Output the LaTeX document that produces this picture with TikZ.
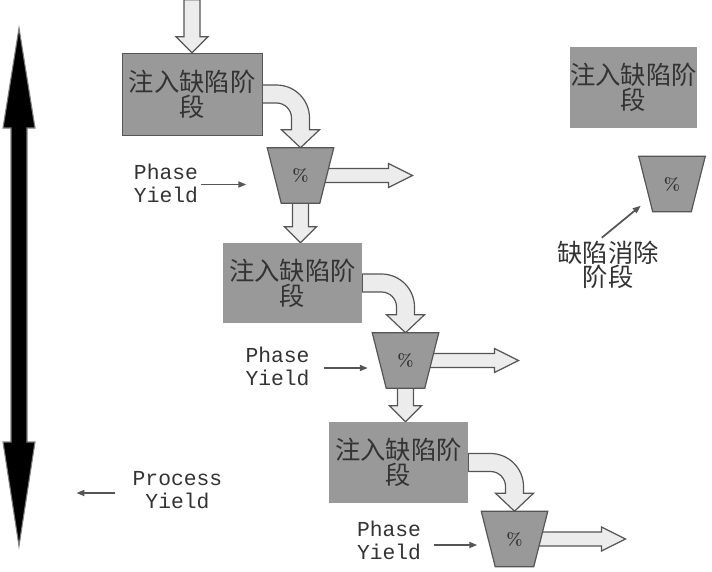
\documentclass[tikz,border=0pt]{standalone}
\usepackage{fontspec}
\setmonofont{Liberation Mono}
\newfontfamily\cjk{Noto Sans CJK SC}
\usetikzlibrary{calc,positioning,arrows.meta,backgrounds}

\definecolor{boxgray}{RGB}{153,153,153}
\definecolor{edgegray}{RGB}{85,85,85}
\definecolor{arrowfill}{RGB}{236,236,236}
\definecolor{ink}{RGB}{51,51,51}

\tikzset{
  stagebox/.style={fill=boxgray, inner sep=0pt, align=center, text=ink,
    font=\cjk\fontsize{19}{17.5}\selectfont},
  funnel/.style={minimum width=49.5pt, minimum height=41.25pt, inner sep=0pt,
    text=ink, font=\bfseries\fontsize{13}{14}\selectfont},
  funnelshape/.style={fill=boxgray, draw=edgegray, line width=0.9pt},
  fatarrow/.style={fill=arrowfill, draw=edgegray, line width=0.9pt},
  yieldlabel/.style={font=\ttfamily\fontsize{16}{17.3}\selectfont, text=ink,
    align=center, inner sep=0pt},
  elimlabel/.style={font=\cjk\fontsize{19}{18}\selectfont, text=ink,
    align=center, inner sep=0pt},
  thinarrow/.style={draw=edgegray, line width=1.3pt, -{Triangle[length=6pt,width=4.5pt]}},
}

%Fat arrow straight down: start, tip
\newcommand{\fatdown}[2]{%
  \draw[fatarrow] ($(#1)+(-8,0)$) -- ($(#2)+(-8,-16)$) -- ++(-8,0) -- (#2)
    -- ($(#2)+(16,-16)$) -- ++(-8,0) -- ($(#1)+(8,0)$) -- cycle;}

%Fat arrow straight right: start, tip
\newcommand{\fatright}[2]{%
  \draw[fatarrow] ($(#1)+(0,-7)$) -- ($(#2)+(-24,-7)$) -- ++(0,-5) -- (#2)
    -- ($(#2)+(-24,12)$) -- ++(0,-5) -- ($(#1)+(0,7)$) -- cycle;}

%Fat bent arrow: box, funnel
\newcommand{\fatbend}[2]{%
  \coordinate (bend) at (#2.north |- #1.east);
  \draw[fatarrow] ($(#1.east)+(0,-9)$) -- ($(bend)+(-24,-9)$)
    arc[start angle=-90,end angle=0,radius=33]
    -- ($(#2.north)+(9,-18)$) -- ++(10,0) -- (#2.north)
    -- ($(#2.north)+(-19,-18)$) -- ++(10,0) -- ($(bend)+(-9,24)$)
    arc[start angle=0,end angle=-90,radius=15]
    -- ($(#1.east)+(0,9)$) -- cycle;}

%Funnel outline round a funnel node
\newcommand{\funnelpath}[1]{%
  \draw[funnelshape] (#1.north west) -- (#1.north east)
    -- ($(#1.south east)+(-14,0)$) -- ($(#1.south west)+(14,0)$) -- cycle;}

\begin{document}
\begin{tikzpicture}[x=0.75pt,y=-0.75pt]
\useasboundingbox (0,0) rectangle (712,571);

%Stage boxes
\node[stagebox, draw=edgegray, minimum width=105pt, minimum height=61.5pt] (inj1) at (192,94) {注入缺陷阶\\段};
\node[stagebox, minimum width=104.25pt, minimum height=60pt] (inj2) at (292.5,283) {注入缺陷阶\\段};
\node[stagebox, minimum width=104.25pt, minimum height=60.75pt] (inj3) at (398.5,462.5) {注入缺陷阶\\段};
\node[stagebox, minimum width=95.25pt, minimum height=60.75pt] (injR) at (633.5,87.5) {注入缺陷阶\\段};

%Funnels
\node[funnel] (f1) at (300.5,175.5) {\%};
\node[funnel] (f2) at (405.5,360.5) {\%};
\node[funnel] (f3) at (514.5,539) {\%};
\node[funnel] (fR) at (672,184) {\%};

%Marking coordinates
\coordinate (in1) at ($(inj1.north)+(0,-53)$);
\coordinate (t1) at (f1.south |- inj2.north);
\coordinate (t2) at (f2.south |- inj3.north);
\coordinate (o1) at ($(f1.center)+(112,0)$);
\coordinate (o2) at ($(f2.center)+(113,0)$);
\coordinate (o3) at ($(f3.center)+(111,0)$);

%Arrows and funnel outlines
\begin{pgfonlayer}{background}
\fatdown{in1}{inj1.north}
\fatbend{inj1}{f1}
\fatbend{inj2}{f2}
\fatbend{inj3}{f3}
\fatright{f1.center}{o1}
\fatright{f2.center}{o2}
\fatright{f3.center}{o3}
\fatdown{f1.south}{t1}
\fatdown{f2.south}{t2}
\funnelpath{f1}
\funnelpath{f2}
\funnelpath{f3}
\funnelpath{fR}
\end{pgfonlayer}

%Yield labels
\node[yieldlabel] (py1) at (166,183.5) {Phase\\Yield};
\node[yieldlabel] (py2) at (277.5,366.5) {Phase\\Yield};
\node[yieldlabel] (py3) at (389,540.5) {Phase\\Yield};
\node[yieldlabel] (proc) at (177.5,490.5) {Process\\Yield};
\node[elimlabel] (elim) at (608,265) {缺陷消除\\阶段};

\draw[thinarrow] ($(py1.east)+(3,1)$) -- ++(45,0);
\draw[thinarrow] ($(py2.east)+(14,1.5)$) -- ++(44,0);
\draw[thinarrow] ($(py3.east)+(13,4.5)$) -- ++(43,0);
\draw[thinarrow] ($(proc.west)+(-17,2.5)$) -- ++(-39,0);
\coordinate (e1) at ($(fR.south west)+(2,-6)$);
\draw[thinarrow] ($(e1)+(-39,32)$) -- (e1);

%Process span
\coordinate (pt) at (19,28);
\coordinate (pb) at (19,546);
\draw[fill=black, draw=gray, line width=0.8pt] (pt) -- ++(16,100) -- ++(-8,0) -- ($(pb)+(8,-104)$)
  -- ++(8,0) -- (pb) -- ++(-16,-104) -- ++(8,0) -- ($(pt)+(-8,100)$) -- ++(-8,0) -- cycle;
\end{tikzpicture}
\end{document}
